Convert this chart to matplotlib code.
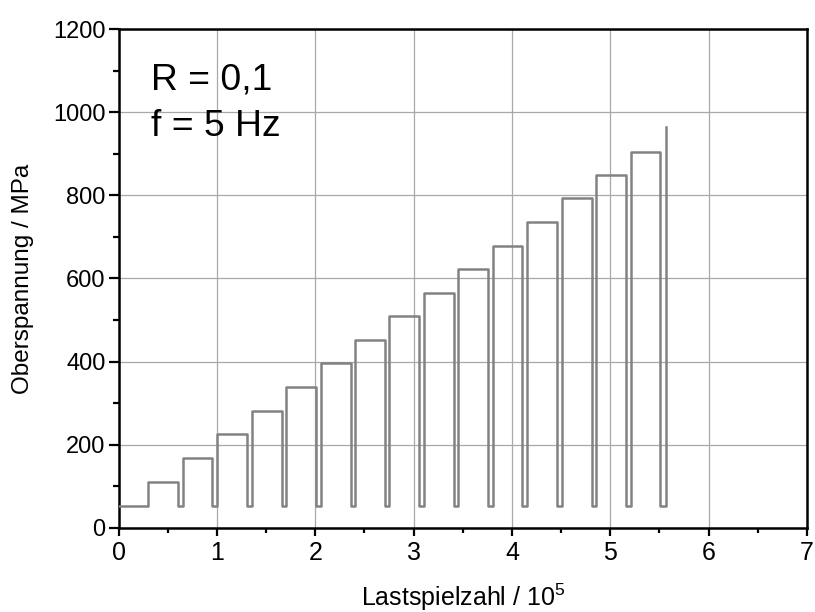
import matplotlib
matplotlib.use("Agg")
import matplotlib.pyplot as plt
from matplotlib.ticker import MultipleLocator

plt.rcParams['font.family'] = ['Liberation Sans', 'DejaVu Sans']
plt.rcParams['mathtext.default'] = 'regular'

# Data (cycles in units of 10^5, stress in MPa)
base_level = 54
step_levels = [111, 168, 225, 282, 339, 396, 452, 509, 565, 622, 679, 736, 793, 849, 905]
final_level = 964
rise_at = [0.296, 0.651, 0.997, 1.353, 1.701, 2.054, 2.402, 2.751, 3.104, 3.452,
           3.808, 4.153, 4.506, 4.859, 5.207, 5.563]
drop_at = [0.607, 0.949, 1.302, 1.657, 2.003, 2.359, 2.707, 3.053, 3.409, 3.757,
           4.107, 4.458, 4.811, 5.157, 5.509]

xs = [0.0]
ys = [base_level]
for i, lvl in enumerate(step_levels):
    xs += [rise_at[i], rise_at[i], drop_at[i], drop_at[i]]
    ys += [base_level, lvl, lvl, base_level]
xs += [rise_at[-1], rise_at[-1]]
ys += [base_level, final_level]

fig = plt.figure(figsize=(8.15, 6.12), dpi=100)
ax = fig.add_axes([0.1455, 0.1373, 0.8445, 0.8153])

ax.plot(xs, ys, color='#828282', lw=1.8, zorder=3)

ax.set_xlim(0, 7)
ax.set_ylim(0, 1200)
ax.xaxis.set_major_locator(MultipleLocator(1))
ax.xaxis.set_minor_locator(MultipleLocator(0.5))
ax.yaxis.set_major_locator(MultipleLocator(200))
ax.yaxis.set_minor_locator(MultipleLocator(100))
ax.grid(True, which='major', color='#a8a8a8', lw=0.9, zorder=0)
ax.tick_params(axis='x', which='major', direction='out', length=5.5, width=1.6,
               labelsize=18, pad=4)
ax.tick_params(axis='x', which='minor', direction='out', length=3.5, width=1.6)
ax.tick_params(axis='y', which='major', direction='out', length=7.5, width=1.6,
               labelsize=17, pad=2)
ax.tick_params(axis='y', which='minor', direction='out', length=4.5, width=1.6)
ax.tick_params(top=False, right=False)
for s in ax.spines.values():
    s.set_linewidth(1.8)
    s.set_color('black')

ax.set_xlabel('Lastspielzahl / 10$^{5}$', fontsize=18)
ax.xaxis.label.set_va('baseline')
ax.xaxis.set_label_coords(0.5, -0.156)
ax.set_ylabel('Oberspannung / MPa', fontsize=17.5)
ax.yaxis.label.set_va('center')
ax.yaxis.set_label_coords(-0.139, 0.5)

ax.text(0.0475, 0.879, 'R = 0,1', transform=ax.transAxes, fontsize=26.8,
        va='baseline', ha='left')
ax.text(0.0475, 0.786, 'f = 5 Hz', transform=ax.transAxes, fontsize=26.8,
        va='baseline', ha='left')

fig.savefig('out.png', dpi=100)
